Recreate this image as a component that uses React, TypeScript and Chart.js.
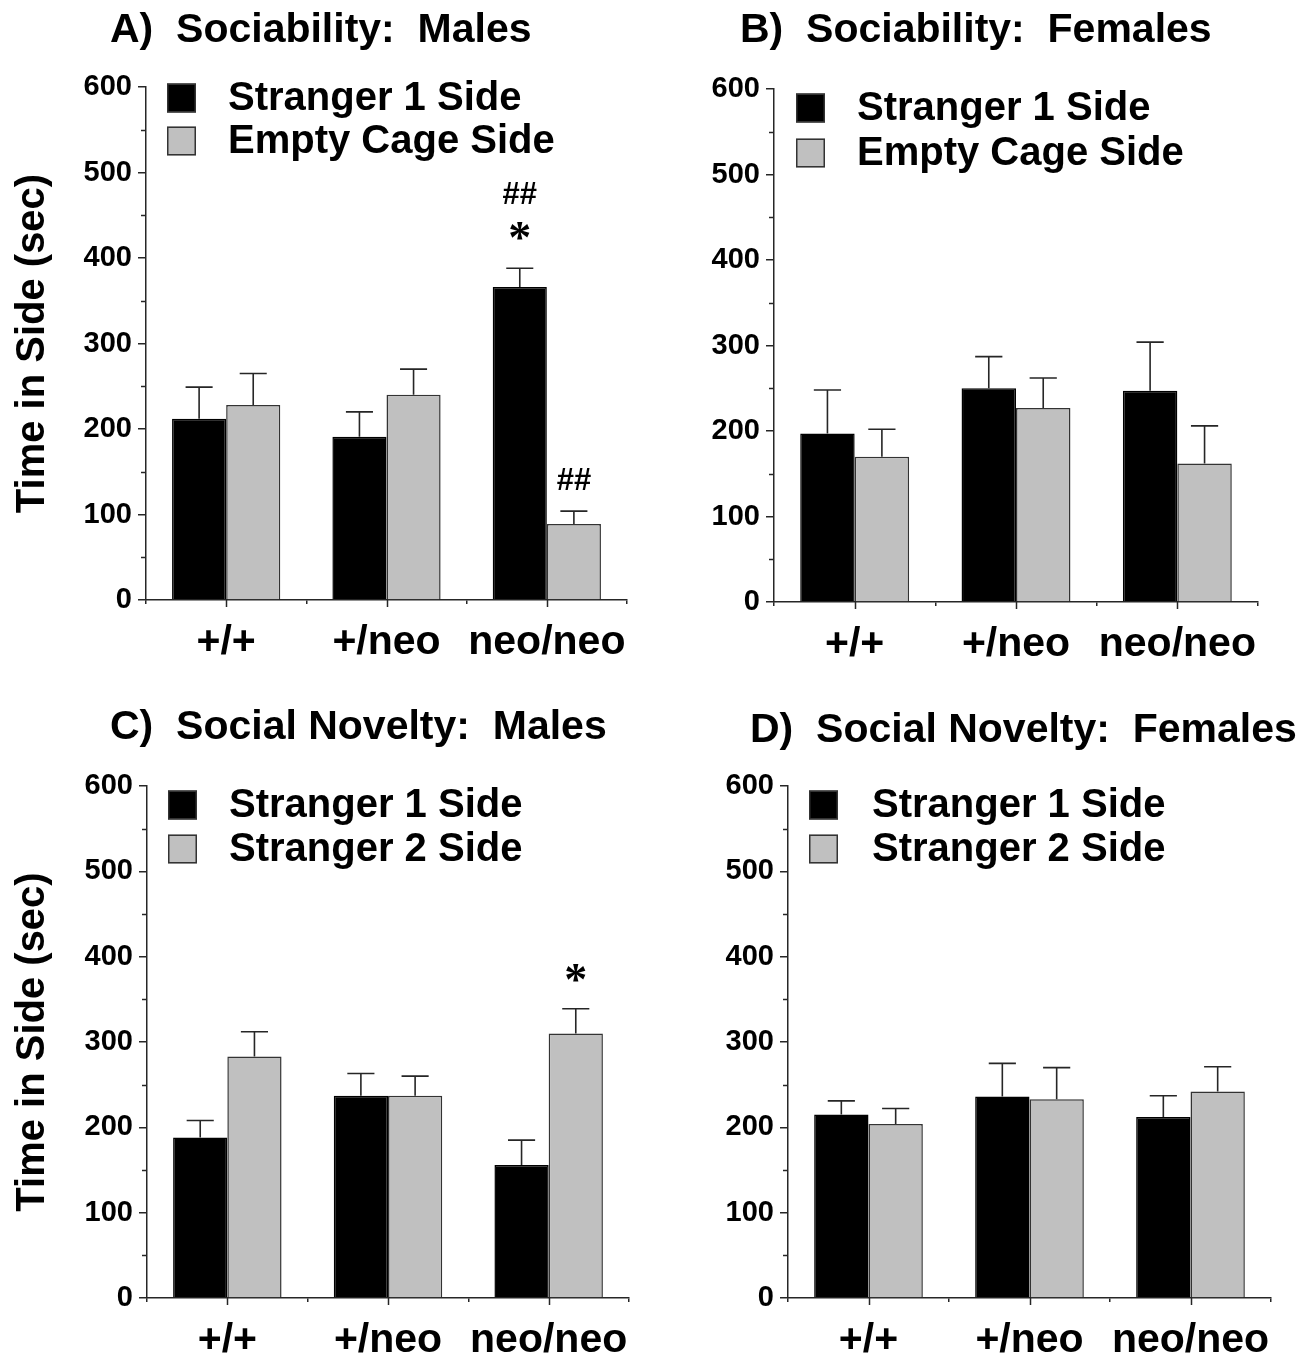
import React, { useEffect, useRef } from 'react';
import { Chart, registerables } from 'chart.js';

Chart.register(...registerables);

const FONT = "'Liberation Sans', Arial, Helvetica, sans-serif";

// ---------- data ----------
const categories = ['+/+', '+/neo', 'neo/neo'];
const yMin = 0;
const yMax = 600;
const yStep = 100;
const yAxisTitle = 'Time in Side (sec)';

const sociabilityLabels = ['Stranger 1 Side', 'Empty Cage Side'];
const noveltyLabels = ['Stranger 1 Side', 'Stranger 2 Side'];

// A) Sociability: Males
const sociabilityMalesStranger1 = [212, 191, 366];
const sociabilityMalesStranger1Sem = [37, 29, 22];
const sociabilityMalesEmpty = [228, 240, 89];
const sociabilityMalesEmptySem = [37, 30, 15];

// B) Sociability: Females
const sociabilityFemalesStranger1 = [197, 250, 247];
const sociabilityFemalesStranger1Sem = [51, 37, 57];
const sociabilityFemalesEmpty = [170, 227, 162];
const sociabilityFemalesEmptySem = [32, 35, 44];

// C) Social Novelty: Males
const noveltyMalesStranger1 = [188, 237, 156];
const noveltyMalesStranger1Sem = [20, 26, 29];
const noveltyMalesStranger2 = [283, 237, 310];
const noveltyMalesStranger2Sem = [29, 23, 29];

// D) Social Novelty: Females
const noveltyFemalesStranger1 = [215, 236, 212];
const noveltyFemalesStranger1Sem = [16, 39, 25];
const noveltyFemalesStranger2 = [204, 233, 242];
const noveltyFemalesStranger2Sem = [18, 37, 29];

// significance marks: dataset index, category index, y value (data units), text
const marksA = [
  { dataset: 0, index: 2, value: 476, text: '##' },
  { dataset: 0, index: 2, value: 431, text: '*' },
  { dataset: 1, index: 2, value: 141, text: '##' },
];
const marksB: any[] = [];
const marksC = [{ dataset: 1, index: 2, value: 381, text: '*' }];
const marksD: any[] = [];

// ---------- layout / style ----------
const BLACK = '#000000';
const GRAY = '#c0c0c0';
const LINE = '#262626';

const panels = [
  {
    key: 'A',
    title: 'A)  Sociability:  Males',
    canvas: { x: 0, y: 0, w: 656, h: 680 },
    area: { l: 146, t: 87, r: 627, b: 600 },
    titlePos: { x: 110, y: 42 },
    yTitle: true,
    legend: { box: 167, text: 228, rows: [98, 141] },
    labels: sociabilityLabels,
    series: [sociabilityMalesStranger1, sociabilityMalesEmpty],
    errors: [sociabilityMalesStranger1Sem, sociabilityMalesEmptySem],
    marks: marksA,
  },
  {
    key: 'B',
    title: 'B)  Sociability:  Females',
    canvas: { x: 656, y: 0, w: 657, h: 680 },
    area: { l: 774, t: 89, r: 1258, b: 602 },
    titlePos: { x: 740, y: 42 },
    yTitle: false,
    legend: { box: 796, text: 857, rows: [108, 153] },
    labels: sociabilityLabels,
    series: [sociabilityFemalesStranger1, sociabilityFemalesEmpty],
    errors: [sociabilityFemalesStranger1Sem, sociabilityFemalesEmptySem],
    marks: marksB,
  },
  {
    key: 'C',
    title: 'C)  Social Novelty:  Males',
    canvas: { x: 0, y: 680, w: 656, h: 679 },
    area: { l: 147, t: 786, r: 629, b: 1298 },
    titlePos: { x: 110, y: 739 },
    yTitle: true,
    legend: { box: 168, text: 229, rows: [805, 849] },
    labels: noveltyLabels,
    series: [noveltyMalesStranger1, noveltyMalesStranger2],
    errors: [noveltyMalesStranger1Sem, noveltyMalesStranger2Sem],
    marks: marksC,
  },
  {
    key: 'D',
    title: 'D)  Social Novelty:  Females',
    canvas: { x: 656, y: 680, w: 657, h: 679 },
    area: { l: 788, t: 786, r: 1271, b: 1298 },
    titlePos: { x: 750, y: 742 },
    yTitle: false,
    legend: { box: 809, text: 872, rows: [805, 849] },
    labels: noveltyLabels,
    series: [noveltyFemalesStranger1, noveltyFemalesStranger2],
    errors: [noveltyFemalesStranger1Sem, noveltyFemalesStranger2Sem],
    marks: marksD,
  },
];

const X_AXIS_H = 55;

function Panel({ p }: { p: any }) {
  const ref = useRef<HTMLCanvasElement | null>(null);

  useEffect(() => {
    if (!ref.current) return;
    const cx = p.canvas.x;
    const cy = p.canvas.y;
    const areaL = p.area.l - cx;
    const areaT = p.area.t - cy;
    const areaR = p.area.r - cx;
    const areaB = p.area.b - cy;

    const errorBars = {
      id: 'errorBars',
      afterDatasetsDraw(chart: any) {
        const { ctx } = chart;
        const y = chart.scales.y;
        ctx.save();
        ctx.strokeStyle = LINE;
        ctx.lineWidth = 1.6;
        chart.data.datasets.forEach((ds: any, i: number) => {
          const meta = chart.getDatasetMeta(i);
          meta.data.forEach((bar: any, j: number) => {
            const top = y.getPixelForValue(ds.data[j] + p.errors[i][j]);
            const half = bar.width / 4;
            ctx.beginPath();
            ctx.moveTo(bar.x, bar.y);
            ctx.lineTo(bar.x, top);
            ctx.moveTo(bar.x - half, top);
            ctx.lineTo(bar.x + half, top);
            ctx.stroke();
          });
        });
        ctx.restore();
      },
    };

    const marks = {
      id: 'marks',
      afterDatasetsDraw(chart: any) {
        const { ctx } = chart;
        const y = chart.scales.y;
        ctx.save();
        ctx.fillStyle = '#000';
        ctx.textAlign = 'center';
        ctx.textBaseline = 'alphabetic';
        p.marks.forEach((m: any) => {
          const bar = chart.getDatasetMeta(m.dataset).data[m.index];
          ctx.font =
            m.text === '*'
              ? `bold 46px 'Liberation Serif', 'Times New Roman', serif`
              : `bold 31px ${FONT}`;
          const mt = ctx.measureText(m.text);
          const cyPix = y.getPixelForValue(m.value);
          const base = cyPix + (mt.actualBoundingBoxAscent - mt.actualBoundingBoxDescent) / 2;
          ctx.fillText(m.text, bar.x, base);
        });
        ctx.restore();
      },
    };

    const extras = {
      id: 'extras',
      afterDraw(chart: any) {
        const { ctx, chartArea } = chart;
        const y = chart.scales.y;
        const x = chart.scales.x;
        ctx.save();
        // minor y ticks halfway between labelled ticks
        ctx.strokeStyle = LINE;
        ctx.lineWidth = 1.5;
        const ticks = y.ticks;
        for (let i = 0; i < ticks.length - 1; i++) {
          const mid = (ticks[i].value + ticks[i + 1].value) / 2;
          const py = Math.round(y.getPixelForValue(mid)) + 0.5;
          ctx.beginPath();
          ctx.moveTo(chartArea.left - 5, py);
          ctx.lineTo(chartArea.left, py);
          ctx.stroke();
        }
        // category centre ticks on x axis
        for (let i = 0; i < categories.length; i++) {
          const px = Math.round(x.getPixelForValue(i)) + 0.5;
          ctx.beginPath();
          ctx.moveTo(px, chartArea.bottom);
          ctx.lineTo(px, chartArea.bottom + 7);
          ctx.stroke();
        }
        // panel title
        ctx.fillStyle = '#000';
        ctx.font = `bold 41px ${FONT}`;
        ctx.textAlign = 'left';
        ctx.textBaseline = 'alphabetic';
        ctx.fillText(p.title, p.titlePos.x - cx, p.titlePos.y - cy);
        // legend inside plot area
        ctx.font = `bold 40px ${FONT}`;
        ctx.textBaseline = 'middle';
        chart.data.datasets.forEach((ds: any, i: number) => {
          const rowY = p.legend.rows[i] - cy;
          const bx = p.legend.box - cx;
          const size = 29;
          ctx.fillStyle = ds.backgroundColor;
          ctx.fillRect(bx, rowY - size / 2, size, size);
          ctx.strokeStyle = '#333';
          ctx.lineWidth = 1.5;
          ctx.strokeRect(bx + 0.75, rowY - size / 2 + 0.75, size - 1.5, size - 1.5);
          ctx.fillStyle = '#000';
          ctx.fillText(ds.label, p.legend.text - cx, rowY + 1);
        });
        ctx.restore();
      },
    };

    const chart = new Chart(ref.current, {
      type: 'bar',
      data: {
        labels: categories,
        datasets: p.series.map((s: number[], i: number) => ({
          label: p.labels[i],
          data: s,
          backgroundColor: i === 0 ? BLACK : GRAY,
          borderColor: i === 0 ? BLACK : '#333333',
          borderWidth: 1.5,
          borderSkipped: 'bottom',
          barPercentage: 1,
          categoryPercentage: 0.675,
        })),
      },
      options: {
        responsive: false,
        animation: false,
        devicePixelRatio: 1,
        layout: {
          padding: {
            left: 0,
            top: areaT,
            right: p.canvas.w - areaR,
            bottom: p.canvas.h - areaB - X_AXIS_H,
          },
        },
        plugins: {
          legend: { display: false },
          title: { display: false },
          tooltip: { enabled: false },
        },
        scales: {
          x: {
            type: 'category',
            offset: true,
            grid: {
              display: true,
              offset: true,
              drawOnChartArea: false,
              drawTicks: true,
              tickLength: 4,
              color: LINE,
              lineWidth: 1.5,
            },
            border: { display: true, color: LINE, width: 1.5 },
            ticks: {
              color: '#000',
              font: { family: FONT, size: 41, weight: 'bold' },
              padding: 14,
              maxRotation: 0,
              autoSkip: false,
            },
            afterFit: (s: any) => {
              s.height = X_AXIS_H;
            },
          },
          y: {
            min: yMin,
            max: yMax,
            grid: {
              display: true,
              drawOnChartArea: false,
              drawTicks: true,
              tickLength: 8,
              color: LINE,
              lineWidth: 1.5,
            },
            border: { display: true, color: LINE, width: 1.5 },
            ticks: {
              stepSize: yStep,
              color: '#000',
              font: { family: FONT, size: 29, weight: 'bold' },
              padding: 6,
            },
            title: {
              display: p.yTitle,
              text: yAxisTitle,
              color: '#000',
              font: { family: FONT, size: 40, weight: 'bold' },
              padding: { top: 9, bottom: 0 },
            },
            afterFit: (s: any) => {
              s.width = areaL;
            },
          },
        },
      },
      plugins: [errorBars, marks, extras],
    } as any);

    return () => chart.destroy();
  }, [p]);

  return (
    <canvas
      ref={ref}
      width={p.canvas.w}
      height={p.canvas.h}
      style={{
        position: 'absolute',
        left: p.canvas.x,
        top: p.canvas.y,
        width: p.canvas.w,
        height: p.canvas.h,
      }}
    />
  );
}

export default function App() {
  return (
    <div
      style={{
        position: 'absolute',
        left: 0,
        top: 0,
        width: 1313,
        height: 1359,
        background: '#ffffff',
        overflow: 'hidden',
      }}
    >
      {panels.map((p) => (
        <Panel key={p.key} p={p} />
      ))}
    </div>
  );
}
